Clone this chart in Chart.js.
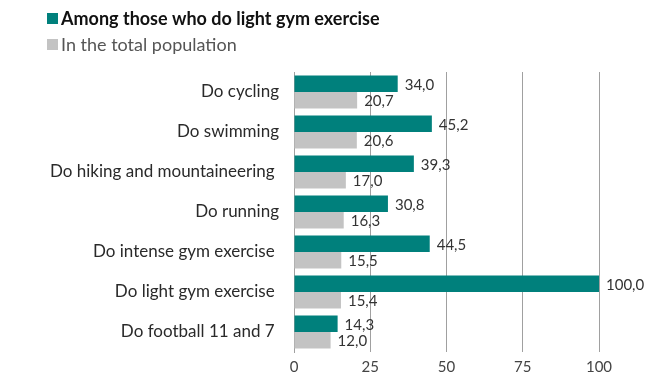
<!DOCTYPE html>
<html>
<head>
<meta charset="utf-8">
<script src="https://cdn.jsdelivr.net/npm/chart.js@4/dist/chart.umd.min.js"></script>
<style>
  html, body { margin: 0; padding: 0; background: #fff; }
  #wrap { position: relative; width: 658px; height: 374px; }
</style>
</head>
<body>
<div id="wrap"><canvas id="myChart"></canvas></div>
<script>
const categories = [
  'Do cycling',
  'Do swimming',
  'Do hiking and mountaineering ',
  'Do running',
  'Do intense gym exercise ',
  'Do light gym exercise ',
  'Do football 11 and 7 '
];
const lightGym = [34.0, 45.2, 39.3, 30.8, 44.5, 100.0, 14.3];
const totalPop = [20.7, 20.6, 17.0, 16.3, 15.5, 15.4, 12.0];
const xTicks = [0, 25, 50, 75, 100];

const seriesNames = ['Among those who do light gym exercise', 'In the total population'];
const TEAL = '#00807c';
const GREY = '#c3c3c3';
const FONT = 'Lato, "Open Sans", sans-serif';

// value labels at the end of each bar, comma as decimal mark
const barValues = {
  id: 'barValues',
  afterDatasetsDraw(chart) {
    const ctx = chart.ctx;
    ctx.save();
    ctx.font = '15px ' + FONT;
    ctx.fillStyle = '#333';
    ctx.textBaseline = 'middle';
    ctx.textAlign = 'left';
    chart.data.datasets.forEach((ds, i) => {
      chart.getDatasetMeta(i).data.forEach((bar, j) => {
        const txt = ds.data[j].toFixed(1).replace('.', ',');
        ctx.fillText(txt, bar.x + 7, bar.y + 1);
      });
    });
    ctx.restore();
  }
};

// two-line legend in the top-left corner
const topLegend = {
  id: 'topLegend',
  afterDraw(chart) {
    const ctx = chart.ctx;
    ctx.save();
    ctx.textBaseline = 'middle';
    ctx.fillStyle = TEAL;
    ctx.fillRect(47, 13, 11, 11);
    ctx.fillStyle = '#111';
    ctx.font = 'bold 18px ' + FONT;
    ctx.fillText(seriesNames[0], 61, 19);
    ctx.fillStyle = GREY;
    ctx.fillRect(47, 39, 11, 11);
    ctx.fillStyle = '#555';
    ctx.font = '18px ' + FONT;
    ctx.fillText(seriesNames[1], 61, 45);
    ctx.restore();
  }
};

let myChart = document.getElementById('myChart').getContext('2d');
let barChart = new Chart(myChart, {
  type: 'bar',
  data: {
    labels: categories,
    datasets: [{
      label: seriesNames[0],
      data: lightGym,
      backgroundColor: TEAL,
      categoryPercentage: 0.82,
      barPercentage: 1.0
    }, {
      label: seriesNames[1],
      data: totalPop,
      backgroundColor: GREY,
      categoryPercentage: 0.82,
      barPercentage: 1.0
    }]
  },
  options: {
    indexAxis: 'y',
    responsive: true,
    maintainAspectRatio: false,
    animation: false,
    layout: { padding: { top: 72, right: 59, left: 0, bottom: 0 } },
    plugins: {
      legend: { display: false },
      tooltip: { enabled: false }
    },
    scales: {
      x: {
        min: 0,
        max: 100,
        afterBuildTicks(scale) {
          scale.ticks = xTicks.map(v => ({ value: v }));
        },
        afterFit(scale) { scale.height = 22; },
        grid: { color: '#a0a0a0', drawTicks: false, lineWidth: 1 },
        border: { display: false },
        ticks: {
          color: '#444',
          padding: 6,
          font: { family: FONT, size: 15 }
        }
      },
      y: {
        afterFit(scale) { scale.width = 294; },
        grid: { display: false },
        border: { display: true, color: '#a0a0a0' },
        ticks: {
          color: '#2a2a2a',
          padding: 7,
          font: { family: FONT, size: 17 }
        }
      }
    }
  },
  plugins: [barValues, topLegend]
});
</script>
</body>
</html>
